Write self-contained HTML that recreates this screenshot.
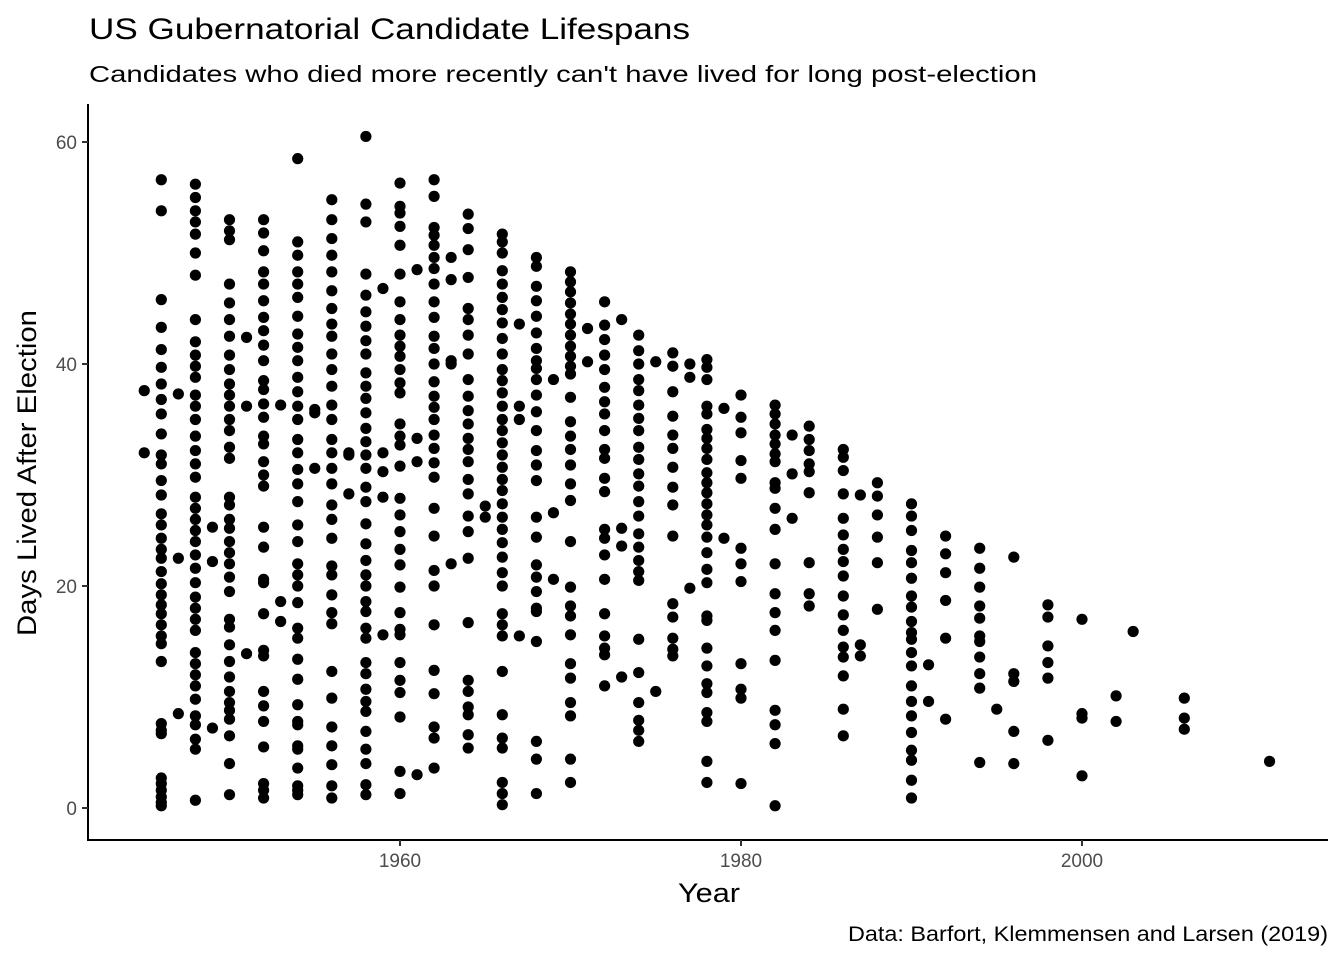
<!DOCTYPE html>
<html><head><meta charset="utf-8"><style>
html,body{margin:0;padding:0;background:#fff;}
svg{display:block;font-family:"Liberation Sans",Arial,sans-serif;}
</style></head><body>
<svg id="chart" width="1344" height="960" viewBox="0 0 1344 960">
<rect width="1344" height="960" fill="#fff"/>
<text x="89" y="39" font-size="30" fill="#000" textLength="601" lengthAdjust="spacingAndGlyphs">US Gubernatorial Candidate Lifespans</text>
<text x="89" y="82" font-size="23.5" fill="#000" textLength="948" lengthAdjust="spacingAndGlyphs">Candidates who died more recently can't have lived for long post-election</text>
<g id="points"></g>
<g id="axes"></g>
<text x="678" y="902" font-size="27" fill="#000" textLength="62" lengthAdjust="spacingAndGlyphs">Year</text>
<text transform="translate(36,636) rotate(-90)" font-size="27" fill="#000" textLength="326" lengthAdjust="spacingAndGlyphs">Days Lived After Election</text>
<text x="848" y="941" font-size="21" fill="#000" textLength="480" lengthAdjust="spacingAndGlyphs">Data: Barfort, Klemmensen and Larsen (2019)</text>
</svg>
<script>
const years=[1945,1946,1947,1948,1949,1950,1951,1952,1953,1954,1955,1956,1957,1958,1959,1960,1961,1962,1963,1964,1965,1966,1967,1968,1969,1970,1971,1972,1973,1974,1975,1976,1977,1978,1979,1980,1982,1983,1984,1986,1987,1988,1990,1991,1992,1994,1995,1996,1998,2000,2002,2003,2006,2011];
const values=[
[37.6,32],
[56.6,53.8,45.8,43.3,41.3,39.7,38.2,36.8,35.5,33.7,31.8,31,29.5,28.2,26.5,25.5,24.3,23.3,22.5,21.3,20.2,19.2,18.3,17.5,16.5,15.5,14.8,13.2,7.6,7,6.7,2.7,2.2,1.6,1,0.5,0.2],
[37.3,22.5,8.5],
[56.2,55,53.8,52.8,51.7,50,48,44,42,40.8,39.8,38.8,37.2,36.2,35,33.5,32.2,31,29.8,28,27,26,25,24,22.8,21.6,20.3,19,18,17,16,14,13,12,11,9.8,8.3,7.5,6.2,5.3,0.7],
[25.3,22.2,7.2],
[53,52,51.2,47.2,45.5,44,42.5,40.8,39.5,38.2,37.2,36.2,35,34,32.5,31.5,28,27.3,26,25.2,24,23,22,20.8,19.5,17,16.3,14.7,13.2,11.8,10.5,9.5,8.8,8,6.5,4,1.2],
[42.4,36.2,13.9],
[53,51.8,50.2,48.3,47.2,45.7,44.2,43,41.7,40.3,38.5,37.7,36.4,35.2,33.5,32.8,31.2,30,29,25.3,23.5,20.6,20.3,17.5,14.2,13.7,10.5,9.2,7.8,5.5,2.2,1.6,0.9],
[36.3,18.6,16.8],
[58.5,51,49.8,48.3,47.2,46,44.3,42.7,41.5,40.3,38.8,37.5,36.2,35,33.2,32,30.5,29.2,27.6,25.5,24,22,21,20,18.5,16.2,15.3,13.4,11.6,9.3,7.8,7.5,5.6,5.3,3.6,2,1.6,1.2],
[35.9,35.6,30.6],
[54.8,53,51.3,49.8,48.3,46.6,45,43.6,42.5,40.9,39.5,38,36.3,35,33.2,32,30.6,29.2,27.3,26,24.3,21.8,21,19.2,17.6,16.6,12.3,9.9,7.3,5.6,3.9,2,0.9],
[32,31.8,28.3],
[60.5,54.4,52.8,48.1,46.2,44.7,43.4,42.1,40.9,39.2,38,36.9,35.6,34.2,33,31.8,30.6,28.9,27.6,25.6,23.8,22.3,21,20,18.6,17.7,16.2,15.3,13.1,12.1,10.7,9.6,8.7,6.9,5.3,4,2.1,1.2],
[46.8,32,30.3,28,15.6],
[56.3,54.2,53.6,52.4,50.7,48.1,45.6,44,42.6,41.6,40.7,39.5,38.3,37.4,34.6,33.5,32.7,30.8,27.9,26.4,24.9,23.3,21.9,19.9,17.6,16.1,15.6,13.1,11.5,10.4,8.2,3.3,1.3],
[48.5,33.3,31.2,3],
[56.6,55.1,52.3,51.6,50.7,49.6,48.6,47.2,45.6,44.2,42.5,41.4,40,38.4,37.1,36.1,35,33.6,32.4,31.1,29.8,27,24.5,21.4,20,16.5,12.4,10.3,7.3,6.3,3.6],
[49.6,47.6,40.3,40,22],
[53.5,52.2,50.3,47.8,45,44,42.6,40.9,38.6,37.1,35.8,34.6,33.3,32.3,31.2,29.6,28.3,26.3,24.9,22.5,16.7,11.5,10.5,9.1,8.4,6.6,5.4],
[27.2,26.2],
[51.7,51,50,48.4,47.2,46,44.9,43.7,42.3,40.9,39.5,38.5,37.4,36.2,35,34,32.9,31.8,30.7,29.6,28.6,27.4,26.2,25.1,23.9,22.6,21.2,20,17.5,16.5,15.5,12.3,8.4,6.3,5.4,2.3,1.3,0.3],
[43.6,36.2,35,15.5],
[49.6,48.8,47,45.7,44.3,42.8,41.4,40.3,39.6,38.6,37.2,35.7,34,32.2,30.9,29.5,26.2,24.4,21.9,20.8,19.5,18,17.7,15,6,4.4,1.3],
[38.6,26.6,20.6],
[48.3,47.4,46.5,45.5,44.5,43.6,42.6,41.6,40.7,39.8,39.1,37,34.8,33.5,32.3,30.9,29.2,27.7,24,19.9,18.2,17.3,15.6,13,11.7,9.5,8.3,4.4,2.3],
[43.2,40.2],
[45.6,43.5,42.2,40.8,39.5,37.9,36.6,35.5,34,32.3,31.5,29.7,28.5,25.1,24.3,22.8,20.6,17.5,15.5,14.4,13.8,11],
[44,25.2,23.6,11.8],
[42.6,41.2,40,38.6,37.6,36.3,35.1,34,32.5,31.4,30.1,29,27.6,26.3,24.7,23.5,22.3,21.3,20.5,15.2,12.2,9.5,7.9,7,6],
[40.2,10.5],
[41,39.8,37.5,35.3,33.6,32.4,30.7,28.9,27.3,24.5,18.4,17.2,15.3,14.3,13.7],
[40,38.8,19.8],
[40.4,39.7,38.6,36.2,35.5,34.1,33.3,32.4,31.4,30.2,29.3,28.4,27.4,26.4,25.5,24.4,23,21.5,20.3,17.3,16.9,14.4,12.8,11.2,10.4,8.6,7.8,4.2,2.3],
[36,24.3],
[37.2,35.2,33.8,31.3,29.7,23.4,22,20.4,13,10.7,9.9,2.2],
[36.3,35.5,34.6,33.6,32.8,31.9,31.2,29.3,28.8,27,25.1,22,19.3,17.6,16,13.3,8.8,7.5,5.8,0.2],
[33.6,30.1,26.1],
[34.4,33.2,32.2,31,30.3,28.4,22.1,19.3,18.2],
[32.3,31.6,30.4,28.3,26.1,24.6,23.3,22.2,20.9,19.1,17.4,16,14.5,13.6,11.9,8.9,6.5],
[28.2,14.7,13.7],
[29.3,28.1,26.4,24.4,22.1,17.9],
[27.4,26.3,25,23.2,22.1,20.7,19.1,18.1,16.8,15.8,15.2,14,12.8,11,9.6,8.3,6.8,5.2,4.3,2.5,0.9],
[12.9,9.6],
[24.5,22.9,21.2,18.7,15.3,8],
[23.4,21.6,19.9,18.2,17.1,15.5,15,13.6,12.1,10.8,4.1],
[8.9],
[22.6,12.1,11.4,6.9,4],
[18.3,17.2,14.6,13.1,11.7,6.1],
[17,8.5,8.1,2.9],
[10.1,7.8],
[15.9],
[9.9,8.1,7.1],
[4.2]
];
const xTicks=[1960,1980,2000];
const yTicks=[0,20,40,60];

const NS="http://www.w3.org/2000/svg";
const xScale=y=>400+(y-1960)*(741-400)/20;
const yScale=v=>808-v*(808-142)/60;
const AX=88, AY=840, RIGHT=1328, TOP=104;

const pg=document.getElementById('points');
years.forEach((yr,i)=>{
  values[i].forEach(v=>{
    const c=document.createElementNS(NS,'circle');
    c.setAttribute('cx',xScale(yr));
    c.setAttribute('cy',yScale(v));
    c.setAttribute('r',5.6);
    c.setAttribute('fill','#000');
    
    
    pg.appendChild(c);
  });
});

const ag=document.getElementById('axes');
function el(tag,attrs){const e=document.createElementNS(NS,tag);for(const k in attrs)e.setAttribute(k,attrs[k]);ag.appendChild(e);return e;}
const xl=el('line',{x1:AX,y1:AY,x2:RIGHT,y2:AY,stroke:'#000','stroke-width':2});


const yl=el('line',{x1:AX,y1:TOP,x2:AX,y2:AY+1,stroke:'#000','stroke-width':2});


xTicks.forEach(t=>{
  const tk=el('line',{x1:xScale(t),y1:AY,x2:xScale(t),y2:AY+6,stroke:'#333','stroke-width':2});
  
  
  const tx=el('text',{x:xScale(t),y:AY+27,'font-size':19,'text-anchor':'middle',fill:'#4d4d4d'});
  tx.textContent=t;
  
  
});
yTicks.forEach(t=>{
  const tk=el('line',{x1:AX-6,y1:yScale(t),x2:AX,y2:yScale(t),stroke:'#333','stroke-width':2});
  
  
  const tx=el('text',{x:AX-11,y:yScale(t)+7,'font-size':19,'text-anchor':'end',fill:'#4d4d4d'});
  tx.textContent=t;
  
  
});
</script>
</body></html>
